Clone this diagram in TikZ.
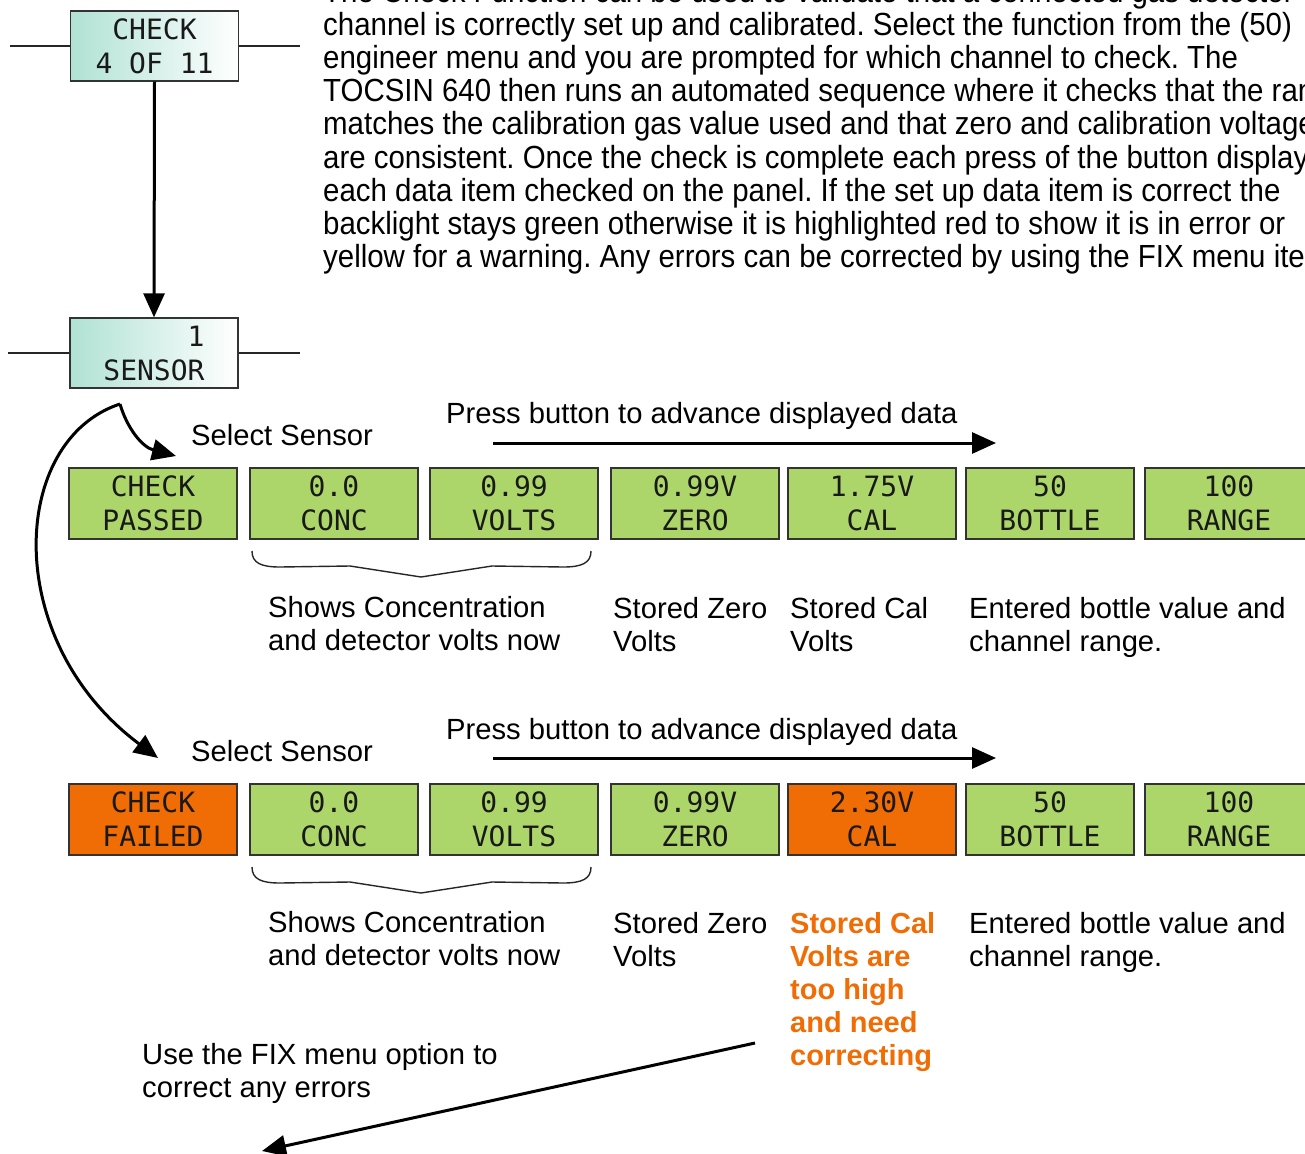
\documentclass[tikz,border=0pt]{standalone}
\usepackage{fontspec}
\setmainfont{Liberation Sans}
\newfontfamily\lcdfont{DejaVu Sans Mono}
\newfontfamily\narrowfont{Liberation Sans}[FakeStretch=0.92]
\usetikzlibrary{arrows.meta}
\definecolor{lcdgreen}{HTML}{ACD66A}
\definecolor{lcdorange}{HTML}{F06C05}
\definecolor{lcdteal}{HTML}{B0E2D4}
\definecolor{bordergray}{HTML}{333333}
\frenchspacing
\tikzset{
  lcd/.style={draw=bordergray, line width=1.4pt, minimum width=168pt, minimum height=71pt,
    inner sep=0pt, align=center, font=\lcdfont\fontsize{28}{34}\selectfont, text=black!90},
  okbox/.style={lcd, fill=lcdgreen},
  badbox/.style={lcd, fill=lcdorange},
  menubox/.style={lcd, minimum height=70pt, left color=lcdteal, right color=white},
  lbl/.style={anchor=base west, inner sep=0pt, font=\fontsize{29.2}{33}\selectfont},
  warn/.style={anchor=base west, inner sep=0pt, font=\bfseries\fontsize{29}{33}\selectfont, text=lcdorange},
  para/.style={anchor=base west, inner sep=0pt, font=\narrowfont\fontsize{32}{33}\selectfont},
  thinline/.style={line width=1.2pt, black!85},
  arr/.style={line width=3pt, -{Triangle[length=24pt,width=21pt]}},
  bracepath/.style={line width=1.4pt, black!85}
}
\begin{document}
\begin{tikzpicture}[x=1pt,y=-1pt]
\useasboundingbox (0,0) rectangle (1305,1153);
\clip (0,0) rectangle (1305,1153);

% top paragraph
\foreach \t [count=\i from 0] in {
 {The Check Function can be used to validate that a connected gas detector},
 {channel is correctly set up and calibrated. Select the function from the (50)},
 {engineer menu and you are prompted for which channel to check. The},
 {TOCSIN 640 then runs an automated sequence where it checks that the range},
 {matches the calibration gas value used and that zero and calibration voltages},
 {are consistent. Once the check is complete each press of the button displays},
 {each data item checked on the panel. If the set up data item is correct the},
 {backlight stays green otherwise it is highlighted red to show it is in error or},
 {yellow for a warning. Any errors can be corrected by using the FIX menu item.}}
  \node[para] (p\i) at (323,{3+33*\i}) {\t};

% menu boxes
\node[menubox] (chk) at (154.5,46) {CHECK\\4 OF 11};
\node[menubox, align=left] (sen) at (154,353) {\hphantom{SENSO}1\\SENSOR};
\coordinate (chkL) at (10,46);
\coordinate (chkR) at (300,46);
\coordinate (senL) at (8,353);
\coordinate (senR) at (300,353);
\draw[thinline] (chkL) -- (chk.west);
\draw[thinline] (chk.east) -- (chkR);
\draw[thinline] (senL) -- (sen.west);
\draw[thinline] (sen.east) -- (senR);
\draw[arr] (chk.south) -- (sen.north);

% curved arrows
\coordinate (peak) at (120,404);
\coordinate (tipA) at (176,456);
\coordinate (tipB) at (158,758);
\draw[arr] (peak) .. controls (127,428) and (142,447) .. (tipA);
\draw[arr] (peak) .. controls (10,440) and (0,640) .. (tipB);

% row 1
\node[lbl] (sel1) at (191,445) {Select Sensor};
\node[lbl] (press1) at (446,423) {Press button to advance displayed data};
\coordinate (pa1s) at (493,443);
\coordinate (pa1e) at (996,443);
\draw[arr] (pa1s) -- (pa1e);

\node[okbox] (a1) at (153,503.5) {CHECK\\PASSED};
\node[okbox] (a2) at (334,503.5) {0.0\\CONC};
\node[okbox] (a3) at (514,503.5) {0.99\\VOLTS};
\node[okbox] (a4) at (695,503.5) {0.99V\\ZERO};
\node[okbox] (a5) at (872,503.5) {1.75V\\CAL};
\node[okbox] (a6) at (1050,503.5) {50\\BOTTLE};
\node[okbox] (a7) at (1229,503.5) {100\\RANGE};

\draw[bracepath] (252,551) .. controls (252,563) and (261,567) .. (280,567) -- (350,566) -- (421,577)
  -- (492,566) -- (563,567) .. controls (582,567) and (591,563) .. (591,551);

\node[lbl] (sc1a) at (268,617) {Shows Concentration};
\node[lbl] (sc1b) at (268,650) {and detector volts now};
\node[lbl] (sz1a) at (613,618) {Stored Zero};
\node[lbl] (sz1b) at (613,651) {Volts};
\node[lbl] (sk1a) at (790,618) {Stored Cal};
\node[lbl] (sk1b) at (790,651) {Volts};
\node[lbl] (eb1a) at (969,618) {Entered bottle value and};
\node[lbl] (eb1b) at (969,651) {channel range.};

% row 2
\node[lbl] (sel2) at (191,761) {Select Sensor};
\node[lbl] (press2) at (446,739) {Press button to advance displayed data};
\coordinate (pa2s) at (493,758);
\coordinate (pa2e) at (996,758);
\draw[arr] (pa2s) -- (pa2e);

\node[badbox] (b1) at (153,819.5) {CHECK\\FAILED};
\node[okbox] (b2) at (334,819.5) {0.0\\CONC};
\node[okbox] (b3) at (514,819.5) {0.99\\VOLTS};
\node[okbox] (b4) at (695,819.5) {0.99V\\ZERO};
\node[badbox] (b5) at (872,819.5) {2.30V\\CAL};
\node[okbox] (b6) at (1050,819.5) {50\\BOTTLE};
\node[okbox] (b7) at (1229,819.5) {100\\RANGE};

\draw[bracepath] (252,867) .. controls (252,879) and (261,883) .. (280,883) -- (350,882) -- (421,893)
  -- (492,882) -- (563,883) .. controls (582,883) and (591,879) .. (591,867);

\node[lbl] (sc2a) at (268,932) {Shows Concentration};
\node[lbl] (sc2b) at (268,965) {and detector volts now};
\node[lbl] (sz2a) at (613,933) {Stored Zero};
\node[lbl] (sz2b) at (613,966) {Volts};
\node[warn] (w1) at (790,933) {Stored Cal};
\node[warn] (w2) at (790,966) {Volts are};
\node[warn] (w3) at (790,999) {too high};
\node[warn] (w4) at (790,1032) {and need};
\node[warn] (w5) at (790,1065) {correcting};
\node[lbl] (eb2a) at (969,933) {Entered bottle value and};
\node[lbl] (eb2b) at (969,966) {channel range.};

% fix
\node[lbl] (fixa) at (142,1064) {Use the FIX menu option to};
\node[lbl] (fixb) at (142,1097) {correct any errors};
\coordinate (fixS) at (755,1043);
\coordinate (fixE) at (262,1151);
\draw[arr] (fixS) -- (fixE);
\end{tikzpicture}
\end{document}
